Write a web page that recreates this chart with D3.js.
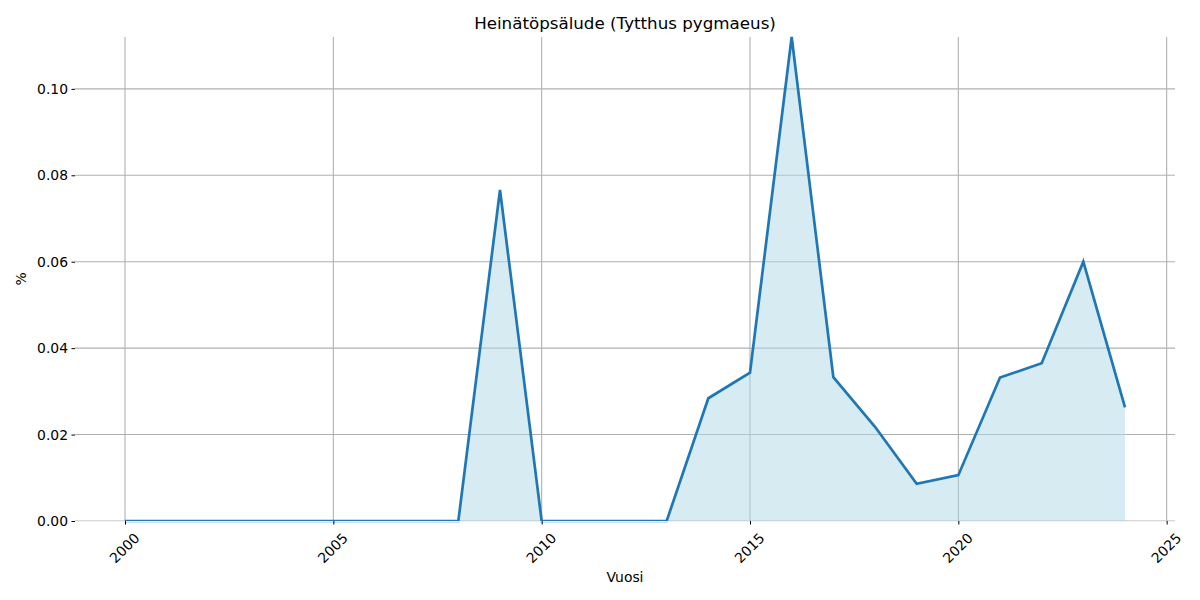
<!DOCTYPE html>
<html>
<head>
<meta charset="utf-8">
<script src="https://cdn.jsdelivr.net/npm/d3@7"></script>
<style>
  body { margin: 0; background: #fff; }
  text { font-family: "DejaVu Sans", sans-serif; fill: #000; }
</style>
</head>
<body>
<div id="chart"></div>
<script>
const width = 1200;
const height = 600;

// data
const years = [2000, 2001, 2002, 2003, 2004, 2005, 2006, 2007, 2008, 2009,
  2010, 2011, 2012, 2013, 2014, 2015, 2016, 2017, 2018, 2019,
  2020, 2021, 2022, 2023, 2024];
const values = [0, 0, 0, 0, 0, 0, 0, 0, 0, 0.0766,
  0, 0, 0, 0, 0.0284, 0.0343, 0.112, 0.0333, 0.0218, 0.0086,
  0.0106, 0.0332, 0.0365, 0.0600, 0.0263];
const xTicks = [2000, 2005, 2010, 2015, 2020, 2025];
const yTicks = [0, 0.02, 0.04, 0.06, 0.08, 0.10];

const data = years.map((y, i) => ({ year: y, value: values[i] }));

const margin = { top: 37, right: 25, bottom: 79, left: 75 };
const iw = width - margin.left - margin.right;
const ih = height - margin.top - margin.bottom;

const svg = d3.select("#chart").append("svg")
  .attr("width", width)
  .attr("height", height);

const g = svg.append("g")
  .attr("transform", `translate(${margin.left},${margin.top})`);

const x = d3.scaleLinear().domain([1998.8, 2025.2]).range([0, iw]);
const y = d3.scaleLinear().domain([0, d3.max(values)]).range([ih, 0]);

// grid
g.append("g").selectAll("line")
  .data(xTicks)
  .enter().append("line")
  .attr("x1", d => x(d)).attr("x2", d => x(d))
  .attr("y1", 0).attr("y2", ih)
  .attr("stroke", "#b0b0b0").attr("stroke-width", 1.1);

g.append("g").selectAll("line")
  .data(yTicks)
  .enter().append("line")
  .attr("x1", 0).attr("x2", iw)
  .attr("y1", d => y(d)).attr("y2", d => y(d))
  .attr("stroke", "#b0b0b0").attr("stroke-width", 1.1);

// area + line
const area = d3.area()
  .x(d => x(d.year))
  .y0(y(0))
  .y1(d => y(d.value));

g.append("path")
  .datum(data)
  .attr("d", area)
  .attr("fill", "lightblue")
  .attr("fill-opacity", 0.5);

const line = d3.line()
  .x(d => x(d.year))
  .y(d => y(d.value));

g.append("path")
  .datum(data)
  .attr("d", line)
  .attr("fill", "none")
  .attr("stroke", "#1f77b4")
  .attr("stroke-width", 2.7);

// faint bottom spine
g.append("line")
  .attr("x1", 0).attr("x2", iw)
  .attr("y1", ih + 0.5).attr("y2", ih + 0.5)
  .attr("stroke", "#f2f2f2");

// axes
const xAxis = g.append("g")
  .attr("transform", `translate(0,${ih})`)
  .call(d3.axisBottom(x).tickValues(xTicks).tickFormat(d3.format("d")).tickSize(3.5).tickPadding(3.5));
xAxis.select(".domain").remove();
xAxis.selectAll("text")
  .attr("font-size", "13.9px")
  .attr("font-family", "DejaVu Sans, sans-serif")
  .attr("text-anchor", "middle")
  .attr("dy", null)
  .attr("y", null)
  .attr("dominant-baseline", "central")
  .attr("transform", "translate(-1,27) rotate(-45)");

const yAxis = g.append("g")
  .call(d3.axisLeft(y).tickValues(yTicks).tickFormat(d3.format(".2f")).tickSize(3.5).tickPadding(3.5));
yAxis.select(".domain").remove();
yAxis.selectAll("text")
  .attr("font-size", "13.9px")
  .attr("font-family", "DejaVu Sans, sans-serif");

// labels
svg.append("text")
  .attr("x", margin.left + iw / 2)
  .attr("y", 29)
  .attr("text-anchor", "middle")
  .attr("font-size", "16.7px")
  .text("Heinätöpsälude (Tytthus pygmaeus)");

svg.append("text")
  .attr("x", margin.left + iw / 2)
  .attr("y", 582)
  .attr("text-anchor", "middle")
  .attr("font-size", "13.9px")
  .text("Vuosi");

svg.append("text")
  .attr("transform", `translate(26,${margin.top + ih / 2}) rotate(-90)`)
  .attr("text-anchor", "middle")
  .attr("font-size", "13.9px")
  .text("%");
</script>
</body>
</html>
